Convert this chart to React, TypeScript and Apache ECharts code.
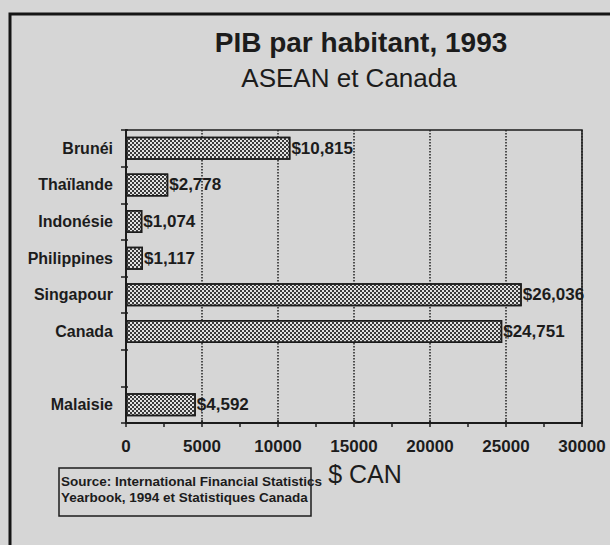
import React, { useEffect, useRef } from "react";
import * as echarts from "echarts";

const titleText = "PIB par habitant, 1993";
const subtitleText = "ASEAN et Canada";
const categories = ["Brunéi", "Thaïlande", "Indonésie", "Philippines", "Singapour", "Canada", "", "Malaisie"];
const gdpValues: (number | null)[] = [10815, 2778, 1074, 1117, 26036, 24751, null, 4592];
const axisName = "$ CAN";
const sourceLines = ["Source: International Financial Statistics", "Yearbook, 1994 et Statistiques Canada"];

const FONT = "'Liberation Sans', Arial, Helvetica, sans-serif";
const NARROW = "'Liberation Sans Narrow', 'Arial Narrow', 'Liberation Sans', Arial, sans-serif";
const INK = "#1c1c1c";
const BG = "#d6d6d6";

export default function App() {
  const ref = useRef<HTMLDivElement>(null);
  useEffect(() => {
    document.body.style.margin = "0";
    document.body.style.background = BG;
    if (!ref.current) return;
    const chart = echarts.init(ref.current, undefined, { renderer: "svg" });
    const xCommon = {
      type: "value" as const,
      min: 0,
      max: 30000,
      interval: 5000,
    };
    chart.setOption({
      animation: false,
      backgroundColor: BG,
      grid: {
        left: 126,
        right: 28,
        top: 130,
        bottom: 122,
        show: true,
        borderColor: INK,
        borderWidth: 1.5,
        backgroundColor: "transparent",
        containLabel: false,
      },
      xAxis: [
        {
          ...xCommon,
          axisLine: { show: true, lineStyle: { color: INK, width: 2 } },
          axisTick: { show: true, length: 4, lineStyle: { color: INK, width: 1.5 } },
          minorTick: { show: true, splitNumber: 2, length: 4, lineStyle: { color: INK, width: 1.5 } },
          splitLine: { show: true, lineStyle: { type: "dotted", color: "#222", width: 1.5 } },
          axisLabel: {
            margin: 15,
            fontSize: 17,
            fontWeight: "bold",
            color: INK,
            fontFamily: FONT,
            formatter: (v: number) => String(v),
          },
        },
        {
          ...xCommon,
          position: "bottom",
          axisLine: { show: false },
          axisTick: { show: true, inside: true, length: 3, lineStyle: { color: INK, width: 1.5 } },
          minorTick: { show: false },
          splitLine: { show: false },
          axisLabel: { show: false },
        },
      ],
      yAxis: [
        {
          type: "category",
          inverse: true,
          data: categories,
          axisLine: { show: true, lineStyle: { color: INK, width: 2 } },
          axisTick: { show: true, length: 5, lineStyle: { color: INK, width: 1.5 } },
          splitLine: { show: false },
          axisLabel: { margin: 13, fontSize: 16, fontWeight: "bold", color: INK, fontFamily: FONT },
        },
        {
          type: "category",
          inverse: true,
          position: "left",
          data: categories,
          axisLine: { show: false },
          axisTick: { show: true, inside: true, length: 2, lineStyle: { color: INK, width: 1.5 } },
          splitLine: { show: false },
          axisLabel: { show: false },
        },
      ],
      series: [
        {
          type: "bar",
          xAxisIndex: 0,
          yAxisIndex: 0,
          data: gdpValues,
          barWidth: 23,
          itemStyle: {
            color: "#e2e2e2",
            borderColor: INK,
            borderWidth: 1.5,
            decal: {
              symbol: "rect",
              symbolSize: 1,
              color: "#3a3a3a",
              dashArrayX: [[1.5, 1.5], [0, 1.5, 1.5, 0]],
              dashArrayY: [1.5, 0],
            },
          },
          label: {
            show: true,
            position: "right",
            distance: 1,
            formatter: (p: any) => "$" + Number(p.value).toLocaleString("en-US"),
            fontSize: 17,
            fontWeight: "bold",
            color: INK,
            fontFamily: NARROW,
          },
        },
      ],
      graphic: [
        {
          type: "rect",
          shape: { x: 10, y: 14, width: 640, height: 580 },
          style: { fill: "none", stroke: "#151515", lineWidth: 3 },
          silent: true,
        },
        {
          type: "text",
          x: 361,
          y: 42,
          style: { text: titleText, align: "center", verticalAlign: "middle", fontSize: 28, fontWeight: "bold", fontFamily: FONT, fill: INK },
        },
        {
          type: "text",
          x: 349,
          y: 78,
          style: { text: subtitleText, align: "center", verticalAlign: "middle", fontSize: 26, fontWeight: "normal", fontFamily: FONT, fill: INK },
        },
        {
          type: "text",
          x: 365,
          y: 474,
          style: { text: axisName, align: "center", verticalAlign: "middle", fontSize: 25, fontWeight: "normal", fontFamily: FONT, fill: INK },
        },
        {
          type: "rect",
          shape: { x: 59, y: 468, width: 252, height: 48 },
          style: { fill: "none", stroke: INK, lineWidth: 1.5 },
        },
        {
          type: "text",
          x: 61,
          y: 481,
          style: { text: sourceLines[0], align: "left", verticalAlign: "middle", fontSize: 13.5, fontWeight: "bold", fontFamily: NARROW, fill: INK },
        },
        {
          type: "text",
          x: 61,
          y: 497,
          style: { text: sourceLines[1], align: "left", verticalAlign: "middle", fontSize: 13.5, fontWeight: "bold", fontFamily: NARROW, fill: INK },
        },
      ],
    });
    return () => chart.dispose();
  }, []);
  return <div ref={ref} style={{ width: 610, height: 545 }} />;
}
